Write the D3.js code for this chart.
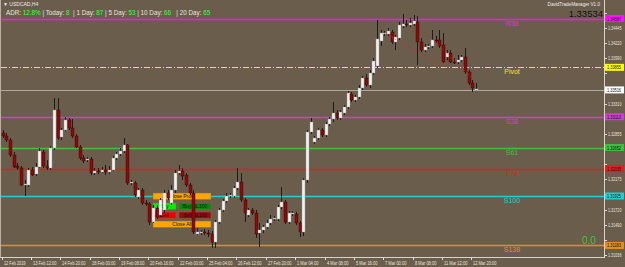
<!DOCTYPE html>
<html>
<head>
<meta charset="utf-8">
<script src="https://cdn.jsdelivr.net/npm/d3@7"></script>
<style>
  body { margin: 0; background: #6b5d4c; }
  svg { display: block; font-family: "Liberation Sans", Arial, sans-serif; }
</style>
</head>
<body>
<div id="chart"></div>
<script>
// USDCAD H4 candles
var opens = [
  1.32870,1.32825,1.32765,1.32540,1.32375,1.32345,1.32090,1.32090,1.32315,1.32255,
  1.32360,1.32585,1.32375,1.32345,1.32645,1.33215,1.32810,1.32915,1.33065,1.32945,
  1.32825,1.32660,1.32495,1.32465,1.32480,1.32270,1.32300,1.32285,1.32315,1.32285,
  1.32315,1.32495,1.32555,1.32600,1.32690,1.32120,1.32120,1.31910,1.32015,1.31820,
  1.31805,1.31535,1.31745,1.31640,1.31715,1.31970,1.31820,1.32015,1.32270,1.32300,
  1.32240,1.32090,1.31970,1.31355,1.31370,1.31385,1.31370,1.31355,1.31235,1.31535,
  1.31715,1.31850,1.31925,1.31925,1.32045,1.32135,1.31865,1.31640,1.31715,1.31670,
  1.31370,1.31415,1.31460,1.31520,1.31580,1.31580,1.31760,1.31835,1.31535,1.31655,
  1.31655,1.31520,1.31385,1.32165,1.32885,1.32735,1.32795,1.32915,1.32840,1.33005,
  1.33080,1.33170,1.33095,1.33170,1.33260,1.33455,1.33365,1.33410,1.33545,1.33695,
  1.33590,1.33770,1.33875,1.34250,1.34355,1.34355,1.34385,1.34235,1.34295,1.34475,
  1.34505,1.34490,1.34505,1.34535,1.34235,1.34115,1.34160,1.34175,1.34265,1.34265,
  1.34190,1.34010,1.34070,1.33935,1.33935,1.33965,1.34010,1.33785,1.33620,1.33510
];
var highs = [
  1.32915,1.32870,1.32795,1.32585,1.32420,1.32375,1.32165,1.32345,1.32360,1.32420,
  1.32645,1.32615,1.32465,1.32675,1.33395,1.33395,1.32945,1.33110,1.33095,1.33080,
  1.32855,1.32690,1.32540,1.32510,1.32510,1.32345,1.32345,1.32360,1.32390,1.32375,
  1.32525,1.32585,1.32645,1.32795,1.32705,1.32165,1.32150,1.32045,1.32045,1.31865,
  1.31835,1.31790,1.31790,1.31895,1.32015,1.32015,1.32090,1.32315,1.32390,1.32345,
  1.32270,1.32120,1.32015,1.31445,1.31415,1.31430,1.31415,1.31400,1.31565,1.31745,
  1.31880,1.31970,1.31970,1.32075,1.32345,1.32270,1.31895,1.31745,1.31745,1.31715,
  1.31520,1.31490,1.31565,1.31640,1.31625,1.31790,1.32060,1.31865,1.31700,1.31700,
  1.31685,1.31550,1.32195,1.32915,1.33095,1.32825,1.32945,1.32945,1.33035,1.33110,
  1.33335,1.33215,1.33215,1.33290,1.33500,1.33485,1.33440,1.33590,1.33725,1.33755,
  1.33815,1.33995,1.34565,1.34415,1.34400,1.34445,1.34415,1.34340,1.34535,1.34655,
  1.34565,1.34595,1.34640,1.34625,1.34295,1.34205,1.34205,1.34415,1.34325,1.34415,
  1.34370,1.34115,1.34115,1.33995,1.34040,1.34040,1.34145,1.33815,1.33665,1.33620
];
var lows = [
  1.32795,1.32735,1.32510,1.32345,1.32315,1.32075,1.31925,1.32060,1.32225,1.32225,
  1.32345,1.32345,1.32315,1.32315,1.32615,1.32765,1.32765,1.32900,1.32915,1.32795,
  1.32645,1.32465,1.32420,1.32435,1.32240,1.32240,1.32255,1.32270,1.32240,1.32255,
  1.32300,1.32465,1.32525,1.32570,1.32090,1.32090,1.31910,1.31880,1.31790,1.31775,
  1.31490,1.31520,1.31580,1.31610,1.31670,1.31865,1.31790,1.31970,1.32240,1.32165,
  1.32060,1.31940,1.31355,1.31340,1.31340,1.31340,1.31310,1.31145,1.31145,1.31505,
  1.31685,1.31820,1.31895,1.31895,1.32015,1.31835,1.31535,1.31610,1.31640,1.31295,
  1.31160,1.31370,1.31430,1.31490,1.31550,1.31550,1.31730,1.31505,1.31505,1.31625,
  1.31490,1.31310,1.31325,1.32120,1.32855,1.32705,1.32765,1.32810,1.32810,1.32975,
  1.33035,1.33065,1.33065,1.33140,1.33230,1.33335,1.33335,1.33380,1.33515,1.33560,
  1.33545,1.33740,1.33845,1.34175,1.34325,1.34325,1.34205,1.34115,1.34265,1.34445,
  1.34460,1.34460,1.34475,1.33890,1.34085,1.34085,1.34130,1.34145,1.34220,1.34145,
  1.33920,1.33965,1.33920,1.33905,1.33905,1.33935,1.33755,1.33590,1.33485,1.33500
];
var closes = [
  1.32825,1.32765,1.32540,1.32360,1.32345,1.32090,1.32105,1.32315,1.32240,1.32360,
  1.32600,1.32375,1.32345,1.32645,1.33215,1.32795,1.32915,1.33065,1.32945,1.32825,
  1.32660,1.32495,1.32450,1.32480,1.32270,1.32300,1.32285,1.32315,1.32285,1.32315,
  1.32495,1.32555,1.32600,1.32690,1.32120,1.32135,1.31940,1.32015,1.31820,1.31805,
  1.31535,1.31745,1.31610,1.31865,1.31970,1.31895,1.32015,1.32270,1.32300,1.32225,
  1.32090,1.31970,1.31385,1.31385,1.31385,1.31370,1.31355,1.31235,1.31535,1.31715,
  1.31850,1.31925,1.31940,1.32045,1.32135,1.31865,1.31670,1.31715,1.31670,1.31355,
  1.31415,1.31460,1.31520,1.31580,1.31595,1.31760,1.31835,1.31535,1.31670,1.31670,
  1.31520,1.31385,1.32165,1.32885,1.33035,1.32795,1.32915,1.32840,1.33005,1.33080,
  1.33170,1.33095,1.33185,1.33260,1.33470,1.33365,1.33410,1.33545,1.33695,1.33590,
  1.33770,1.33950,1.34280,1.34370,1.34370,1.34400,1.34235,1.34310,1.34490,1.34505,
  1.34490,1.34520,1.34550,1.34235,1.34115,1.34160,1.34175,1.34265,1.34260,1.34175,
  1.33935,1.34070,1.33935,1.33930,1.33965,1.34010,1.33785,1.33620,1.33545,1.33530
];

// one time label every 8 bars
var timeLabels = ["12 Feb 2019","13 Feb 12:00","14 Feb 20:00","18 Feb 00:00","19 Feb 08:00",
  "20 Feb 16:00","22 Feb 00:00","25 Feb 04:00","26 Feb 12:00","27 Feb 20:00","1 Mar 04:00",
  "4 Mar 08:00","5 Mar 16:00","7 Mar 00:00","8 Mar 08:00","11 Mar 12:00","12 Mar 20:00"];
var priceTicks = [1.34670,1.34445,1.34220,1.33990,1.33765,1.33535,1.33310,1.33085,1.32855,
  1.32630,1.32400,1.32175,1.31945,1.31720,1.31490,1.31265,1.31036];

// pivot levels
var levelNames  = ["R38","Pivot","S38","S61","S78","S100","S138"];
var levelPrices = [1.34587,1.33855,1.33113,1.32652,1.32335,1.31925,1.31183];
var levelColors = ["#ff10ff","#f0e040","#d040d0","#40c040","#e02020","#20d0d0","#e09020"];
var bidPrice = 1.33516;

// red dotted trend lines: [bar, price] pairs
var trendA = [[104, 1.34370], [122, 1.33815]];
var trendB = [[114, 1.34445], [128, 1.33695]];

var adrParts = [["ADR: ", false], ["12.8%", true], [" | Today: ", false], ["8", true],
  ["  | 1 Day: ", false], ["87", true], [" | 5 Day: ", false], ["53", true],
  [" | 10 Day: ", false], ["66", true], ["   | 20 Day: ", false], ["65", true]];

var W = 625, H = 267;
var plotRight = 604, plotBottom = 257;

var svg = d3.select("#chart").append("svg")
  .attr("width", W).attr("height", H);

svg.append("rect").attr("width", W).attr("height", H).attr("fill", "#6b5d4c");

var x = d3.scaleLinear().domain([0, opens.length - 1]).range([2.5, 476]);
var y = d3.scaleLinear().domain([1.31025, 1.34670]).range([256, 13]);

// frame
svg.append("line").attr("x1", 0.5).attr("x2", 0.5).attr("y1", 0).attr("y2", plotBottom)
  .attr("stroke", "#b8b0a4");
svg.append("line").attr("x1", plotRight + 0.5).attr("x2", plotRight + 0.5).attr("y1", 0).attr("y2", plotBottom)
  .attr("stroke", "#d8d4cc");
svg.append("line").attr("x1", 0).attr("x2", plotRight + 1).attr("y1", plotBottom + 0.5).attr("y2", plotBottom + 0.5)
  .attr("stroke", "#d8d4cc");

// level lines
levelNames.forEach(function(n, i){
  var yy = Math.round(y(levelPrices[i])) + 0.5;
  var ln = svg.append("line").attr("x1", 1).attr("x2", plotRight).attr("y1", yy).attr("y2", yy)
    .attr("stroke", levelColors[i]).attr("stroke-width", 1.3);
  if (n == "Pivot") ln.attr("stroke-dasharray", "6,2,1,2").attr("stroke-width", 1);
  svg.append("text").attr("x", 512).attr("y", yy + 6.5).attr("text-anchor", "middle")
    .attr("font-size", "7px").attr("fill", levelColors[i]).text(n);
});

// bid line
var by = Math.round(y(bidPrice)) + 0.5;
svg.append("line").attr("x1", 1).attr("x2", plotRight).attr("y1", by).attr("y2", by)
  .attr("stroke", "#b0aaa2");

// trade manager buttons (behind the candles)
var buttons = [
  {t: "Close Profit", x: 153, y: 193, w: 58, fill: "#ffa500"},
  {t: "Buy", x: 153, y: 203, w: 23, fill: "#00f000"},
  {t: "Buy   SL100", x: 179, y: 203, w: 32, fill: "#078a07"},
  {t: "Sell", x: 153, y: 212, w: 23, fill: "#f00000"},
  {t: "Sell  SL100", x: 179, y: 212, w: 32, fill: "#9a0a0a"},
  {t: "Close All", x: 153, y: 221, w: 58, fill: "#ffa500"}
];
buttons.forEach(function(b){
  svg.append("rect").attr("x", b.x).attr("y", b.y).attr("width", b.w).attr("height", 6.5)
    .attr("fill", b.fill).attr("stroke", "#8a6a3a").attr("stroke-width", 0.5);
  svg.append("text").attr("x", b.x + b.w / 2).attr("y", b.y + 5.3).attr("text-anchor", "middle")
    .attr("font-size", "5px").attr("fill", "#111").text(b.t);
});

// candles
var bars = d3.range(opens.length);
var g = svg.append("g");
g.selectAll("line.wick").data(bars).enter().append("line")
  .attr("x1", function(i){ return Math.round(x(i)) + 0.5; })
  .attr("x2", function(i){ return Math.round(x(i)) + 0.5; })
  .attr("y1", function(i){ return y(highs[i]); })
  .attr("y2", function(i){ return y(lows[i]); })
  .attr("stroke", "#1c1c1c").attr("stroke-width", 1);
g.selectAll("rect.body").data(bars).enter().append("rect")
  .attr("x", function(i){ return Math.round(x(i)) - 1; })
  .attr("width", 3)
  .attr("y", function(i){ return y(Math.max(opens[i], closes[i])); })
  .attr("height", function(i){ return Math.max(1, Math.abs(y(opens[i]) - y(closes[i]))); })
  .attr("fill", function(i){ return closes[i] >= opens[i] ? "#f0f0f0" : "#8b0a0a"; })
  .attr("stroke", function(i){ return closes[i] >= opens[i] ? "#9a9a9a" : "#3a0000"; })
  .attr("stroke-width", 0.4);

// trend lines
[trendA, trendB].forEach(function(t){
  svg.append("line").attr("x1", x(t[0][0])).attr("y1", y(t[0][1]))
    .attr("x2", x(t[1][0])).attr("y2", y(t[1][1]))
    .attr("stroke", "#e02020").attr("stroke-width", 1).attr("stroke-dasharray", "1,2");
});

// price boxes on the axis
var boxes = levelPrices.map(function(p, i){ return {p: p, c: levelColors[i]}; });
boxes.push({p: bidPrice, c: "#ffffff"});

// price axis (labels under a box are hidden, like in the terminal)
svg.selectAll("line.ptick").data(priceTicks).enter().append("line")
  .attr("x1", plotRight).attr("x2", plotRight + 3)
  .attr("y1", function(d){ return Math.round(y(d)) + 0.5; })
  .attr("y2", function(d){ return Math.round(y(d)) + 0.5; })
  .attr("stroke", "#ddd");
var freeTicks = priceTicks.filter(function(d){
  return boxes.every(function(b){ return Math.abs(y(b.p) - y(d)) > 6.5; });
});
svg.selectAll("text.ptick").data(freeTicks).enter().append("text")
  .attr("x", plotRight + 4).attr("y", function(d){ return y(d) + 2; })
  .attr("font-size", "5px").attr("fill", "#e8e4dc")
  .attr("textLength", 13.5).attr("lengthAdjust", "spacingAndGlyphs")
  .text(function(d){ return d.toFixed(5); });

boxes.forEach(function(b){
  var yy = y(b.p);
  svg.append("rect").attr("x", plotRight + 1).attr("y", yy - 3.5).attr("width", 19).attr("height", 7)
    .attr("fill", b.c == "#f0e040" ? "#ffff00" : b.c);
  svg.append("text").attr("x", plotRight + 3).attr("y", yy + 2).attr("font-size", "5px")
    .attr("textLength", 14).attr("lengthAdjust", "spacingAndGlyphs")
    .attr("fill", "#111").text(b.p.toFixed(5));
});

// time axis
svg.selectAll("line.ttick").data(timeLabels).enter().append("line")
  .attr("x1", function(d, k){ return Math.round(x(k * 8)) - 0.5; })
  .attr("x2", function(d, k){ return Math.round(x(k * 8)) - 0.5; })
  .attr("y1", plotBottom).attr("y2", plotBottom + 3).attr("stroke", "#ddd");
svg.selectAll("text.ttick").data(timeLabels).enter().append("text")
  .attr("x", function(d, k){ return Math.round(x(k * 8)) + 1; })
  .attr("y", plotBottom + 7.5)
  .attr("font-size", "5px").attr("fill", "#e8e4dc")
  .attr("textLength", function(d){ return d.length * 1.95; })
  .attr("lengthAdjust", "spacingAndGlyphs")
  .text(function(d){ return d; });

// header texts
svg.append("text").attr("x", 3).attr("y", 6).attr("font-size", "5px").attr("fill", "#eee")
  .text("\u25BC USDCAD,H4");
var adr = svg.append("text").attr("x", 6).attr("y", 15).attr("font-size", "6.3px")
  .style("white-space", "pre");
adrParts.forEach(function(p){
  adr.append("tspan").attr("fill", p[1] ? "#3cff3c" : "#e8e4dc").text(p[0]);
});

svg.append("text").attr("x", 600).attr("y", 6).attr("text-anchor", "end")
  .attr("font-size", "4.6px").attr("fill", "#eee").text("DavidTradeManager V1.0");
svg.append("text").attr("x", 603).attr("y", 16.5).attr("text-anchor", "end")
  .attr("font-size", "9.5px").attr("fill", "#111").text("1.33534");

svg.append("text").attr("x", 582).attr("y", 244).attr("font-size", "10px")
  .attr("fill", "#3cc83c").text("0.0");
</script>
</body>
</html>
